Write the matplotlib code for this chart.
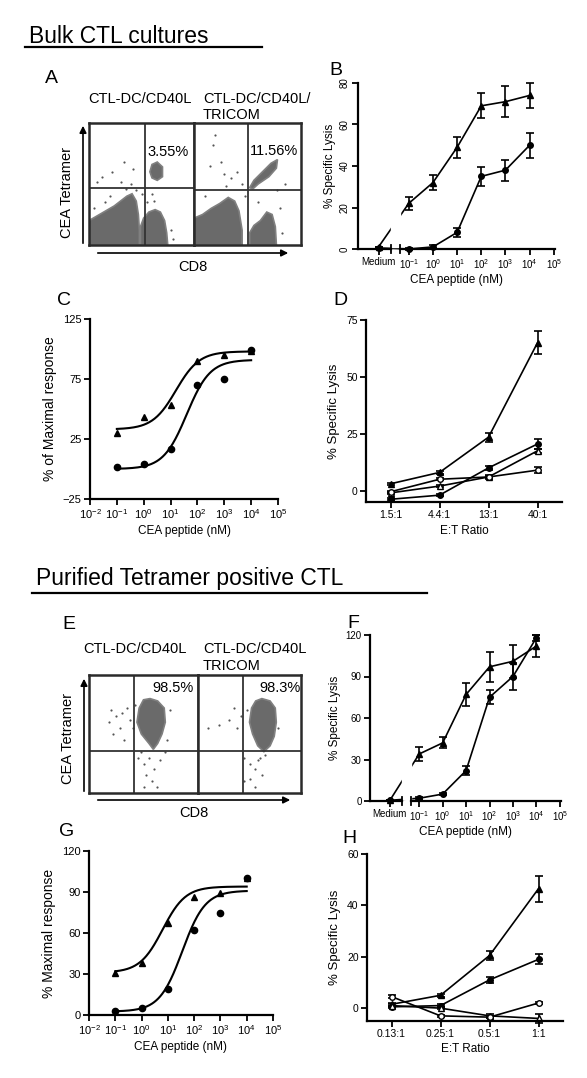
import numpy as np
import matplotlib
matplotlib.use('Agg')
import matplotlib.pyplot as plt
from matplotlib.patches import Polygon
from matplotlib.transforms import blended_transform_factory

plt.rcParams['font.family'] = ['Liberation Sans', 'DejaVu Sans']
plt.rcParams['mathtext.fontset'] = 'custom'
plt.rcParams['mathtext.rm'] = 'Liberation Sans'
plt.rcParams['mathtext.it'] = 'Liberation Sans:italic'
NARROW = ['Liberation Sans Narrow', 'Liberation Sans', 'DejaVu Sans']

W, H = 587, 1078

# ---------------------------------------------------------------- data
# концентрации пептида, log10(nM)
pep_log = [-1, 0, 1, 2, 3, 4]
MEDIUM = -2.25
BREAK = (-1.75, -1.35)

# B: bulk CTL, % specific lysis
b_tri = [22, 32, 49, 69, 71, 74]
b_tri_err = [3, 3.5, 5, 6, 7.5, 6]
b_cir = [0, 1, 8, 35, 38, 50]
b_cir_err = [0.5, 1, 2, 4.5, 5, 6]
b_medium = [1, 0.5]          # triangle, circle

# F: purified tetramer+ CTL
f_tri = [34, 42, 77, 97, 101, 112]
f_tri_err = [5, 4, 8, 11, 12, 8]
f_cir = [2, 5, 22, 75, 90, 118]
f_cir_err = [1, 1, 3, 5, 10, 2]
f_medium = [0.5, 0.5]

# C / G: % of maximal response + sigmoid fits (bottom, top, logEC50)
c_tri = [30, 43, 53, 90, 95, 98]
c_cir = [2, 4, 17, 70, 75, 99]
c_fit_tri = (33, 98, 1.2)
c_fit_cir = (0, 91, 1.6)
g_tri = [31, 38, 67, 86, 89, 100]
g_cir = [3, 5, 19, 62, 75, 100]
g_fit_tri = (31, 94, 0.8)
g_fit_cir = (2.5, 91, 1.55)

# D / H: E:T ratio
d_cats = ['1.5:1', '4.4:1', '13:1', '40:1']
d_tri = [3, 8, 23.5, 65]
d_tri_err = [0.5, 0.8, 2, 5]
d_cir = [-3.8, -2, 10, 20.5]
d_cir_err = [0.5, 0.5, 0.8, 2]
d_otri = [-1, 2, 6, 17.5]
d_otri_err = [0.5, 0.5, 0.8, 1]
d_ocir = [-0.5, 5, 6, 9]
d_ocir_err = [0.5, 0.5, 0.5, 1.2]

h_cats = ['0.13:1', '0.25:1', '0.5:1', '1:1']
h_tri = [1.5, 5, 20.5, 46.5]
h_tri_err = [0.5, 0.5, 1.8, 5]
h_cir = [0.5, 1, 11, 19]
h_cir_err = [0.5, 0.5, 1.3, 2]
h_otri = [1, 0, -3, -4]
h_otri_err = [0.5, 0.5, 0.8, 1.8]
h_ocir = [4.5, -3, -3.5, 2]
h_ocir_err = [0.5, 0.5, 0.5, 0.5]

# flow cytometry (fractions of each quadrant box)
a1_clouds = [
    [(0, 0), (0, 0.2), (0.08, 0.24), (0.16, 0.28), (0.24, 0.32), (0.3, 0.36), (0.36, 0.4),
     (0.41, 0.42), (0.45, 0.36), (0.47, 0.25), (0.48, 0.12), (0.48, 0)],
    [(0.49, 0), (0.49, 0.15), (0.52, 0.22), (0.57, 0.27), (0.63, 0.29), (0.68, 0.27),
     (0.72, 0.2), (0.74, 0.1), (0.75, 0)],
    [(0.58, 0.6), (0.6, 0.66), (0.65, 0.68), (0.7, 0.64), (0.7, 0.56), (0.65, 0.53), (0.6, 0.55)],
]
a1_dots = [(0.33, 0.68), (0.22, 0.6), (0.12, 0.56), (0.42, 0.62), (0.3, 0.52), (0.08, 0.52),
           (0.2, 0.4), (0.35, 0.46), (0.45, 0.45), (0.5, 0.42), (0.55, 0.35), (0.62, 0.36),
           (0.78, 0.12), (0.8, 0.05), (0.05, 0.3), (0.15, 0.35), (0.4, 0.5), (0.6, 0.42)]
a2_clouds = [
    [(0, 0), (0, 0.22), (0.08, 0.25), (0.16, 0.3), (0.24, 0.34), (0.32, 0.39), (0.38, 0.36),
     (0.42, 0.28), (0.45, 0.12), (0.45, 0)],
    [(0.52, 0), (0.52, 0.1), (0.56, 0.16), (0.62, 0.2), (0.68, 0.27), (0.73, 0.25),
     (0.76, 0.15), (0.77, 0)],
    [(0.52, 0.47), (0.56, 0.53), (0.64, 0.6), (0.72, 0.67), (0.78, 0.7), (0.77, 0.63),
     (0.7, 0.56), (0.6, 0.5), (0.55, 0.46)],
]
a2_dots = [(0.2, 0.9), (0.18, 0.82), (0.15, 0.65), (0.28, 0.58), (0.25, 0.68), (0.35, 0.55),
           (0.4, 0.6), (0.45, 0.5), (0.1, 0.4), (0.3, 0.48), (0.48, 0.4), (0.6, 0.35),
           (0.8, 0.3), (0.82, 0.1), (0.78, 0.45), (0.85, 0.5)]
e1_clouds = [
    [(0.46, 0.72), (0.5, 0.79), (0.56, 0.8), (0.63, 0.78), (0.69, 0.72), (0.7, 0.6),
     (0.67, 0.5), (0.63, 0.42), (0.59, 0.37), (0.55, 0.42), (0.48, 0.5), (0.44, 0.6)],
]
e1_dots = [(0.2, 0.7), (0.25, 0.65), (0.3, 0.68), (0.18, 0.6), (0.28, 0.55), (0.35, 0.72),
           (0.38, 0.62), (0.32, 0.45), (0.22, 0.5), (0.45, 0.3), (0.5, 0.25), (0.55, 0.3),
           (0.6, 0.2), (0.52, 0.15), (0.65, 0.28), (0.58, 0.1), (0.7, 0.35), (0.48, 0.35),
           (0.62, 0.05), (0.5, 0.05), (0.42, 0.75), (0.4, 0.55), (0.72, 0.45), (0.74, 0.7)]
e2_clouds = [
    [(0.52, 0.72), (0.56, 0.78), (0.62, 0.8), (0.7, 0.78), (0.75, 0.72), (0.76, 0.6),
     (0.74, 0.48), (0.7, 0.4), (0.64, 0.35), (0.58, 0.4), (0.53, 0.5), (0.5, 0.6)],
]
e2_dots = [(0.1, 0.55), (0.2, 0.58), (0.3, 0.62), (0.35, 0.72), (0.38, 0.55), (0.42, 0.65),
           (0.45, 0.3), (0.5, 0.25), (0.55, 0.2), (0.58, 0.28), (0.62, 0.15), (0.5, 0.12),
           (0.6, 0.3), (0.65, 0.32), (0.45, 0.1), (0.55, 0.05), (0.48, 0.7), (0.78, 0.55)]

pow_labels = [r'$10^{%d}$' % p for p in range(-2, 6)]


def rect(x0, y0, x1, y1):
    return [x0 / W, 1 - y1 / H, (x1 - x0) / W, (y1 - y0) / H]


def logistic(x, bottom, top, logec50):
    return bottom + (top - bottom) / (1 + 10 ** (logec50 - x))


fig = plt.figure(figsize=(W / 100, H / 100), dpi=100)
ov = fig.add_axes([0, 0, 1, 1])
ov.set_xlim(0, W)
ov.set_ylim(H, 0)
ov.axis('off')


def style(ax, lsize=7):
    for s in ['top', 'right']:
        ax.spines[s].set_visible(False)
    for s in ['left', 'bottom']:
        ax.spines[s].set_linewidth(1.6)
    ax.tick_params(width=1.3, length=4, labelsize=lsize, pad=2)


def flow_box(box, clouds, dots, qx, qy):
    ax = fig.add_axes(rect(*box))
    ax.set_xlim(0, 1)
    ax.set_ylim(0, 1)
    ax.set_xticks([])
    ax.set_yticks([])
    for s in ax.spines.values():
        s.set_linewidth(1.8)
        s.set_color('#2a2a2a')
    for poly in clouds:
        ax.add_patch(Polygon(poly, closed=True, fc='#6a6a6a', ec='#808080', lw=1.2))
    dx, dy = zip(*dots)
    ax.scatter(dx, dy, s=2.5, c='#555555', lw=0)
    ax.axvline(qx, color='#333333', lw=1.3)
    ax.axhline(qy, color='#333333', lw=1.3)
    return ax


def lysis_panel(box, tri, tri_err, cir, cir_err, med, ymax, yticks, rot):
    ax = fig.add_axes(rect(*box))
    style(ax)
    xs = [MEDIUM] + pep_log
    kw = dict(color='k', lw=1.2, ms=4, capsize=3, elinewidth=1.2, capthick=1.2)
    ax.errorbar(xs, [med[0]] + tri, yerr=[0] + tri_err, fmt='-^', **kw)
    ax.errorbar(xs, [med[1]] + cir, yerr=[0] + cir_err, fmt='-o', **kw)
    ax.axvspan(BREAK[0], BREAK[1], ymin=0.012, ymax=1, color='white', zorder=4)
    for art in ax.lines + ax.collections:
        art.set_clip_on(False)
    ax.set_xlim(-3.1, 5.05)
    ax.set_ylim(0, ymax)
    ax.spines['bottom'].set_visible(False)
    tr = blended_transform_factory(ax.transData, ax.transAxes)
    ax.plot([-3.1, BREAK[0]], [0, 0], color='k', lw=1.6, transform=tr, clip_on=False, zorder=6)
    ax.plot([BREAK[1], 5.05], [0, 0], color='k', lw=1.6, transform=tr, clip_on=False, zorder=6)
    for b in BREAK:
        ax.plot([b, b], [-0.025, 0.025], color='k', lw=1.3, transform=tr, clip_on=False, zorder=6)
    ax.set_xticks([MEDIUM] + pep_log + [5])
    ax.set_xticklabels(['Medium'] + pow_labels[1:], fontsize=7)
    ax.set_yticks(yticks)
    if rot:
        ax.tick_params(axis='y', labelrotation=90)
        for t in ax.get_yticklabels():
            t.set_va('center')
    for t in ax.get_xticklabels() + ax.get_yticklabels():
        t.set_family(NARROW)
    ax.set_ylabel('% Specific Lysis', fontsize=8.5, family=NARROW, labelpad=3)
    ax.set_xlabel('CEA peptide (nM)', fontsize=8.5, family=NARROW, labelpad=2)
    return ax


def fit_panel(box, tri, cir, fit_tri, fit_cir, ylim, yticks, ylabel):
    ax = fig.add_axes(rect(*box))
    style(ax, 8)
    grid = np.linspace(-1, 4, 200)
    ax.plot(grid, logistic(grid, *fit_tri), color='k', lw=1.5)
    ax.plot(grid, logistic(grid, *fit_cir), color='k', lw=1.5)
    ax.plot(pep_log, tri, '^', color='k', ms=4.5, clip_on=False)
    ax.plot(pep_log, cir, 'o', color='k', ms=4.5, clip_on=False)
    ax.set_xlim(-2, 5)
    ax.set_ylim(*ylim)
    ax.set_xticks(range(-2, 6))
    ax.set_xticklabels(pow_labels)
    ax.set_yticks(yticks)
    ax.set_ylabel(ylabel, fontsize=10, labelpad=4)
    ax.set_xlabel('CEA peptide (nM)', fontsize=8.5, family=NARROW, labelpad=3)
    return ax


def et_panel(box, cats, series, ylim, yticks):
    ax = fig.add_axes(rect(*box))
    style(ax, 7.5)
    for ys, err, fmt, fill in series:
        ax.errorbar(range(len(cats)), ys, yerr=err, fmt=fmt, color='k', mfc=fill, mec='k',
                    lw=1.2, ms=4, capsize=3, elinewidth=1.2, capthick=1.2, clip_on=False)
    ax.set_xlim(-0.5, 3.5)
    ax.set_ylim(*ylim)
    ax.set_xticks(range(len(cats)))
    ax.set_xticklabels(cats)
    ax.set_yticks(yticks)
    for t in ax.get_xticklabels() + ax.get_yticklabels():
        t.set_family(NARROW)
    ax.set_ylabel('% Specific Lysis', fontsize=9.5, labelpad=4)
    ax.set_xlabel('E:T Ratio', fontsize=8.5, family=NARROW, labelpad=3)
    return ax


# ---------------------------------------------------------------- section titles
ov.text(29, 43, 'Bulk CTL cultures', fontsize=16.5, va='baseline')
ov.plot([25, 262], [47, 47], color='k', lw=1.6)
ov.text(36, 585, 'Purified Tetramer positive CTL', fontsize=16.5, va='baseline')
ov.plot([32, 427], [593, 593], color='k', lw=1.6)

for letter, x, y in [('A', 45, 83), ('B', 329, 75), ('C', 57, 305), ('D', 333, 305),
                     ('E', 62, 629), ('F', 347, 628), ('G', 59, 836), ('H', 342, 843)]:
    ov.text(x, y, letter, fontsize=14, va='baseline')

# ---------------------------------------------------------------- A / E flow
ov.text(88, 103, 'CTL-DC/CD40L', fontsize=10.5, va='baseline')
ov.text(203, 103, 'CTL-DC/CD40L/', fontsize=10.5, va='baseline')
ov.text(203, 119, 'TRICOM', fontsize=10.5, va='baseline')
ax = flow_box((89, 123, 194, 245), a1_clouds, a1_dots, 0.53, 0.47)
ax.text(0.95, 0.73, '3.55%', fontsize=10.5, ha='right', va='baseline', transform=ax.transAxes)
ax = flow_box((194, 123, 301, 245), a2_clouds, a2_dots, 0.5, 0.45)
ax.text(0.52, 0.74, '11.56%', fontsize=10.5, ha='left', va='baseline', transform=ax.transAxes)
ov.annotate('', xy=(83, 123), xytext=(83, 246),
            arrowprops=dict(arrowstyle='-|>', lw=1.2, color='k', mutation_scale=10))
ov.annotate('', xy=(291, 253), xytext=(95, 253),
            arrowprops=dict(arrowstyle='-|>', lw=1.2, color='k', mutation_scale=10))
ov.text(67, 193, 'CEA Tetramer', fontsize=10.5, rotation=90, ha='center', va='center')
ov.text(193, 267, 'CD8', fontsize=10.5, ha='center', va='center')

ov.text(83, 653, 'CTL-DC/CD40L', fontsize=10.5, va='baseline')
ov.text(203, 653, 'CTL-DC/CD40L', fontsize=10.5, va='baseline')
ov.text(203, 670, 'TRICOM', fontsize=10.5, va='baseline')
ax = flow_box((89, 675, 198, 793), e1_clouds, e1_dots, 0.41, 0.36)
ax.text(0.96, 0.86, '98.5%', fontsize=10.5, ha='right', va='baseline', transform=ax.transAxes)
ax = flow_box((198, 675, 301, 793), e2_clouds, e2_dots, 0.44, 0.36)
ax.text(0.6, 0.86, '98.3%', fontsize=10.5, ha='left', va='baseline', transform=ax.transAxes)
ov.annotate('', xy=(84, 676), xytext=(84, 794),
            arrowprops=dict(arrowstyle='-|>', lw=1.2, color='k', mutation_scale=10))
ov.annotate('', xy=(293, 800), xytext=(95, 800),
            arrowprops=dict(arrowstyle='-|>', lw=1.2, color='k', mutation_scale=10))
ov.text(68, 739, 'CEA Tetramer', fontsize=10.5, rotation=90, ha='center', va='center')
ov.text(194, 813, 'CD8', fontsize=10.5, ha='center', va='center')

# ---------------------------------------------------------------- B / F
lysis_panel((358, 83, 555, 249), b_tri, b_tri_err, b_cir, b_cir_err, b_medium,
            80, [0, 20, 40, 60, 80], True)
lysis_panel((370, 635, 561, 801), f_tri, f_tri_err, f_cir, f_cir_err, f_medium,
            120, [0, 30, 60, 90, 120], False)

# ---------------------------------------------------------------- C / G
fit_panel((90, 319, 278, 499), c_tri, c_cir, c_fit_tri, c_fit_cir, (-25, 125),
          [-25, 25, 75, 125], '% of Maximal response')
fit_panel((89, 851, 273, 1015), g_tri, g_cir, g_fit_tri, g_fit_cir, (0, 120),
          [0, 30, 60, 90, 120], '% Maximal response')

# ---------------------------------------------------------------- D / H
et_panel((366, 320, 562, 502), d_cats,
         [(d_tri, d_tri_err, '-^', 'k'), (d_cir, d_cir_err, '-o', 'k'),
          (d_otri, d_otri_err, '-^', 'white'), (d_ocir, d_ocir_err, '-o', 'white')],
         (-5, 75), [0, 25, 50, 75])
et_panel((367, 854, 563, 1021), h_cats,
         [(h_tri, h_tri_err, '-^', 'k'), (h_cir, h_cir_err, '-o', 'k'),
          (h_otri, h_otri_err, '-^', 'white'), (h_ocir, h_ocir_err, '-o', 'white')],
         (-5, 60), [0, 20, 40, 60])

fig.savefig('out.png', dpi=100)
